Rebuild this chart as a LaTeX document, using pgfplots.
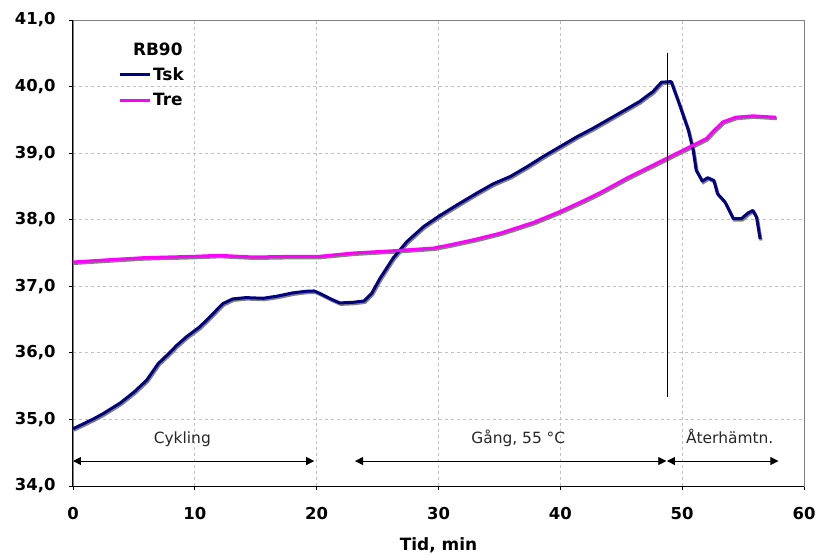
\documentclass[border=0pt]{standalone}
\usepackage{pgfplots}
\pgfplotsset{compat=1.18}
\usepackage{fontspec}
\setmainfont{DejaVu Sans}
\usetikzlibrary{arrows.meta}
\definecolor{tsk}{RGB}{0,0,128}
\definecolor{tre}{RGB}{255,0,255}
\definecolor{shadowc}{RGB}{128,128,128}
\definecolor{gridc}{RGB}{192,192,192}

\pgfplotstableread{
x y
0 34.86
0.8 34.93
1.7 35.01
2.5 35.09
3.2 35.17
3.9 35.25
5.0 35.41
6.05 35.59
7.0 35.84
7.8 35.98
8.5 36.11
9.3 36.24
10.4 36.39
11.5 36.59
12.3 36.74
13.1 36.81
14.2 36.83
15.6 36.82
16.7 36.85
17.5 36.88
18.0 36.90
19.1 36.925
19.8 36.93
20.3 36.89
21.1 36.815
21.9 36.75
23.0 36.76
23.9 36.78
24.5 36.89
25.2 37.12
26.3 37.43
27.4 37.67
28.8 37.90
30.0 38.05
31.5 38.22
33.15 38.40
34.5 38.54
35.9 38.65
37.3 38.80
38.6 38.95
40.0 39.10
41.4 39.25
42.65 39.37
44.85 39.60
46.5 39.775
47.6 39.925
48.3 40.065
49.1 40.075
49.8 39.72
50.5 39.35
50.9 39.05
51.15 38.745
51.65 38.58
52.1 38.63
52.6 38.59
52.9 38.39
53.5 38.27
54.2 38.015
54.85 38.015
55.4 38.10
55.8 38.14
56.1 38.04
56.4 37.71
}\tsktable

\pgfplotstableread{
x y
0 37.365
3.05 37.40
5.8 37.43
9.9 37.45
12.0 37.465
14.8 37.44
18.0 37.45
20.2 37.45
23.0 37.50
26.85 37.54
29.6 37.575
31.0 37.625
32.9 37.70
35.1 37.80
37.8 37.96
40.0 38.125
41.9 38.285
43.3 38.41
45.4 38.62
48.7 38.92
50.9 39.12
52.0 39.22
52.5 39.32
53.35 39.47
54.4 39.54
55.8 39.56
57.7 39.54
}\tretable

\begin{document}
\begin{tikzpicture}
\useasboundingbox (-73bp,-69bp) rectangle (743bp,486bp);
\begin{axis}[
  at={(0,0)}, anchor=south west,
  scale only axis, width=731bp, height=466bp,
  xmin=0, xmax=60, ymin=34, ymax=41,
  xtick={0,10,...,60}, ytick={34,35,...,41},
  /pgf/number format/assume math mode=true,
  ticklabel style={font=\fontsize{16.5}{18}\selectfont\bfseries},
  yticklabel style={xshift=-10bp, /pgf/number format/.cd, fixed, fixed zerofill, precision=1, use comma},
  xticklabel style={yshift=-14bp},
  tick align=outside, xtick pos=left, ytick pos=left,
  major tick length=4bp, tick style={black, line width=0.8bp},
  axis line style={draw=gray, line width=0.8bp},
  grid=major, major grid style={gridc, dash pattern=on 3bp off 3bp, line width=0.8bp},
  xlabel={Tid, min},
  xlabel style={font=\fontsize{17}{19}\selectfont\bfseries, at={(axis description cs:0.5,0)}, anchor=base, yshift=-64bp},
  legend style={at={(axis cs:3.69,40.325)}, anchor=north west, draw=none, fill=none,
    font=\fontsize{17}{19}\selectfont\bfseries, inner sep=0pt, row sep=8bp,
    nodes={inner sep=2bp}},
  legend cell align=left,
  legend image code/.code={\draw[#1, line width=3bp] (0bp,0bp) -- (30bp,0bp);},
  clip=false,
]
\draw[black, line width=1bp] (rel axis cs:0,1) -- (rel axis cs:0,0) -- (rel axis cs:1,0);

\addplot[shadowc, line width=3bp, xshift=1bp, yshift=-1.5bp, forget plot] table[x=x,y=y] {\tsktable};
\addplot[shadowc, line width=3bp, xshift=1bp, yshift=-1.5bp, forget plot] table[x=x,y=y] {\tretable};
\addplot[tsk, line width=3bp, line join=round] table[x=x,y=y] {\tsktable};
\addlegendentry{Tsk}
\addplot[tre, line width=3bp, line join=round] table[x=x,y=y] {\tretable};
\addlegendentry{Tre}

\node[anchor=base east, font=\fontsize{17}{19}\selectfont\bfseries] at (axis cs:9.28,40.474) {RB90};

\draw[black, line width=0.8bp] (axis cs:48.75,40.51) -- (axis cs:48.75,35.33);

\draw[black, line width=0.8bp, {Triangle[length=8bp,width=8bp]}-{Triangle[length=8bp,width=8bp]}] (axis cs:0,34.375) -- (axis cs:19.8,34.375);
\draw[black, line width=0.8bp, {Triangle[length=8bp,width=8bp]}-{Triangle[length=8bp,width=8bp]}] (axis cs:23.15,34.375) -- (axis cs:48.7,34.375);
\draw[black, line width=0.8bp, {Triangle[length=8bp,width=8bp]}-{Triangle[length=8bp,width=8bp]}] (axis cs:48.75,34.375) -- (axis cs:57.9,34.375);

\node[anchor=base, font=\fontsize{15.5}{17}\selectfont, text=black!85] at (axis cs:8.97,34.64) {Cykling};
\node[anchor=base, font=\fontsize{15.5}{17}\selectfont, text=black!85] at (axis cs:36.55,34.64) {Gång, 55 °C};
\node[anchor=base, font=\fontsize{15.5}{17}\selectfont, text=black!85] at (axis cs:53.9,34.64) {Återhämtn.};
\end{axis}
\end{tikzpicture}
\end{document}
